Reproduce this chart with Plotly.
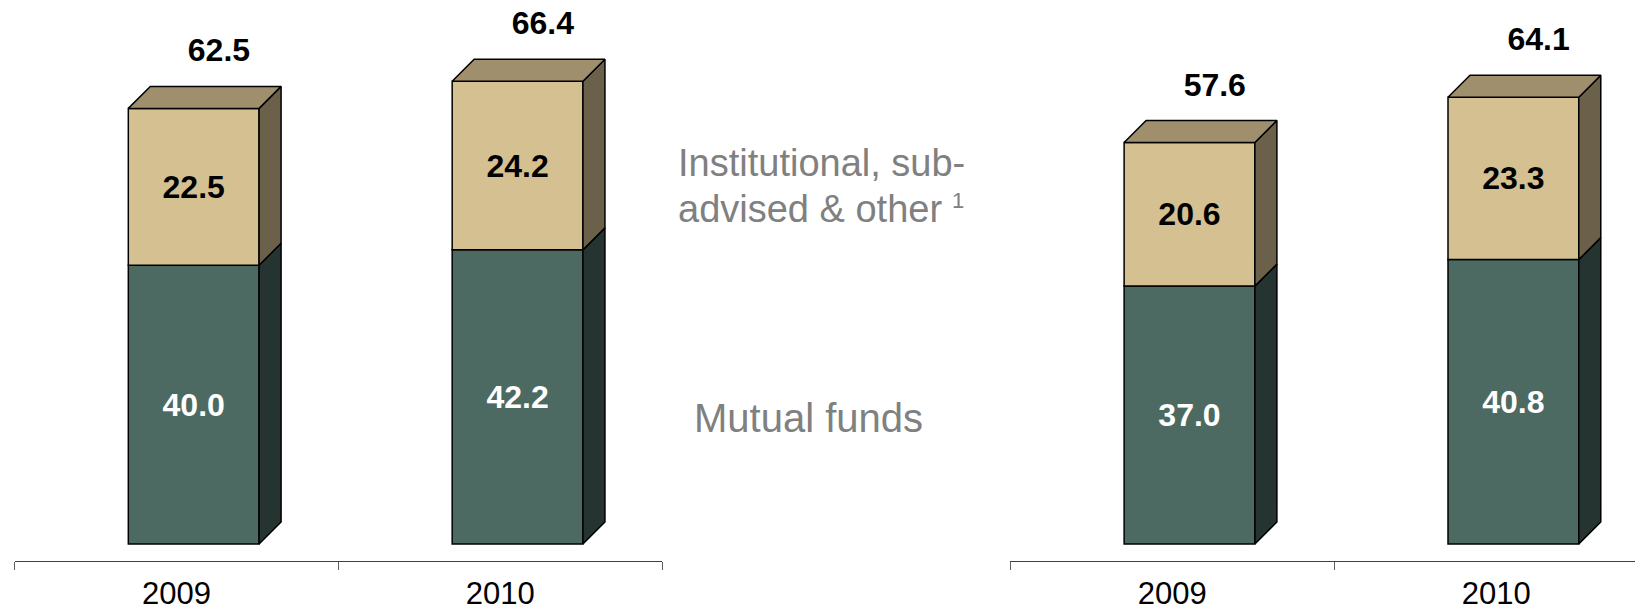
import plotly.graph_objects as go

# ---------------- data ----------------
years = ["2009", "2010"]
left_mutual = [40.0, 42.2]
left_inst = [22.5, 24.2]
right_mutual = [37.0, 40.8]
right_inst = [20.6, 23.3]
inst_label_lines = ["Institutional, sub-", "advised & other"]
inst_footnote = "1"
mutual_label = "Mutual funds"

# ---------------- geometry / style ----------------
W, H = 1643, 608
CAT_PX = 323.9          # pixel width of one category band
PX_PER_UNIT = 6.97      # vertical pixels per value unit
BASE_PX = 536.0         # pixel row of the value 0 (from top)
AXIS_PX = 553.4         # pixel row of the category axis line
LEFT_AX_START = 6.5
RIGHT_AX_START = 1002.3

BAR_OFF = -0.1487       # bar front left edge relative to category centre (category units)
BAR_W = 0.4038          # bar front width (category units)
DX = 22.0 / CAT_PX      # 3-D depth, horizontal (category units)
DY = 22.0 / PX_PER_UNIT # 3-D depth, vertical (value units)
TOT_GAP = 33.0 / PX_PER_UNIT
TOT_DX = 0.078

FONT = "Liberation Sans, Arial, sans-serif"
GREEN_FRONT = "#4D6A62"
GREEN_SIDE = "#253430"
TAN_FRONT = "#D4C091"
TAN_TOP = "#A08F6C"
TAN_SIDE = "#6B6049"
EDGE = "#000000"
GREY_TXT = "#808080"

fig = go.Figure()


def add_panel(mutual, inst, xa):
    xs = list(range(len(years)))
    tops = [m + i for m, i in zip(mutual, inst)]
    # front faces
    fig.add_trace(go.Bar(
        x=xs, y=mutual, base=[0] * len(xs), offset=BAR_OFF, width=BAR_W,
        marker=dict(color=GREEN_FRONT, line=dict(color=EDGE, width=1.5)),
        text=[f"{v:.1f}" for v in mutual], textposition="inside",
        insidetextanchor="middle", textangle=0,
        textfont=dict(family=FONT, size=32, color="white", weight="bold"),
        xaxis=xa, yaxis="y", showlegend=False, hoverinfo="skip"))
    fig.add_trace(go.Bar(
        x=xs, y=inst, base=mutual, offset=BAR_OFF, width=BAR_W,
        marker=dict(color=TAN_FRONT, line=dict(color=EDGE, width=1.5)),
        text=[f"{v:.1f}" for v in inst], textposition="inside",
        insidetextanchor="middle", textangle=0,
        textfont=dict(family=FONT, size=32, color="black", weight="bold"),
        xaxis=xa, yaxis="y", showlegend=False, hoverinfo="skip"))

    # side and top faces, derived from the same values
    def side_poly(bottoms, heights):
        px, py = [], []
        for x, b, h in zip(xs, bottoms, heights):
            xr = x + BAR_OFF + BAR_W
            t = b + h
            px += [xr, xr + DX, xr + DX, xr, xr, None]
            py += [b, b + DY, t + DY, t, b, None]
        return px, py

    gx, gy = side_poly([0] * len(xs), mutual)
    fig.add_trace(go.Scatter(x=gx, y=gy, mode="lines", fill="toself",
                             fillcolor=GREEN_SIDE, line=dict(color=EDGE, width=1.5),
                             xaxis=xa, yaxis="y", showlegend=False, hoverinfo="skip"))
    tx, ty = side_poly(mutual, inst)
    fig.add_trace(go.Scatter(x=tx, y=ty, mode="lines", fill="toself",
                             fillcolor=TAN_SIDE, line=dict(color=EDGE, width=1.5),
                             xaxis=xa, yaxis="y", showlegend=False, hoverinfo="skip"))
    px, py = [], []
    for x, t in zip(xs, tops):
        xl = x + BAR_OFF
        xr = xl + BAR_W
        px += [xl, xl + DX, xr + DX, xr, xl, None]
        py += [t, t + DY, t + DY, t, t, None]
    fig.add_trace(go.Scatter(x=px, y=py, mode="lines", fill="toself",
                             fillcolor=TAN_TOP, line=dict(color=EDGE, width=1.5),
                             xaxis=xa, yaxis="y", showlegend=False, hoverinfo="skip"))

    # totals
    fig.add_trace(go.Scatter(
        x=[x + BAR_OFF + BAR_W / 2 + TOT_DX for x in xs],
        y=[t + DY + TOT_GAP for t in tops],
        text=[f"{t:.1f}" for t in tops], mode="text", textposition="middle center",
        textfont=dict(family=FONT, size=32, color="black", weight="bold"),
        xaxis=xa, yaxis="y", showlegend=False, hoverinfo="skip"))


add_panel(left_mutual, left_inst, "x")
add_panel(right_mutual, right_inst, "x2")

xaxis_common = dict(
    tickmode="array", tickvals=list(range(len(years))), ticktext=years,
    ticks="", showline=True, linecolor="#404040", linewidth=1,
    showgrid=False, zeroline=False, anchor="y", fixedrange=True,
    automargin=False,
    tickfont=dict(family=FONT, size=31, color="black"),
    ticklabelstandoff=4,
    minor=dict(tickmode="array", tickvals=[-0.5, 0.5, 1.5], ticks="outside",
               ticklen=8, tickcolor="#606060", tickwidth=1, showgrid=False),
)

left_end = LEFT_AX_START + 2 * CAT_PX
fig.update_layout(
    template="none",
    width=W, height=H, margin=dict(l=0, r=0, t=0, b=0, autoexpand=False),
    paper_bgcolor="white", plot_bgcolor="rgba(0,0,0,0)",
    barmode="overlay", showlegend=False,
    xaxis=dict(domain=[LEFT_AX_START / W, left_end / W],
               range=[-0.5001, 1.5001], **xaxis_common),
    xaxis2=dict(domain=[RIGHT_AX_START / W, 1.0],
                range=[-0.5001, -0.5 + (W - RIGHT_AX_START) / CAT_PX], **xaxis_common),
    yaxis=dict(domain=[(H - AXIS_PX) / H, 1.0],
               range=[-(AXIS_PX - BASE_PX) / PX_PER_UNIT, BASE_PX / PX_PER_UNIT],
               visible=False, fixedrange=True, automargin=False),
)

# series labels in the middle
label_font = dict(family=FONT, size=38, color=GREY_TXT)
for text, baseline in zip(inst_label_lines, [169, 215]):
    fig.add_annotation(text=text, xref="paper", yref="paper",
                       x=669 / W, y=(H - (baseline + 8.1)) / H,
                       xanchor="left", yanchor="bottom", showarrow=False,
                       font=label_font, borderpad=0)
fig.add_annotation(text=inst_footnote, xref="paper", yref="paper",
                   x=943 / W, y=(H - 192) / H,
                   xanchor="left", yanchor="middle", showarrow=False,
                   font=dict(family=FONT, size=22, color=GREY_TXT), borderpad=0)
fig.add_annotation(text=mutual_label, xref="paper", yref="paper",
                   x=685 / W, y=(H - (425 + 8.1)) / H,
                   xanchor="left", yanchor="bottom", showarrow=False,
                   font=dict(family=FONT, size=40, color=GREY_TXT), borderpad=0)

fig.write_html("out.html")
